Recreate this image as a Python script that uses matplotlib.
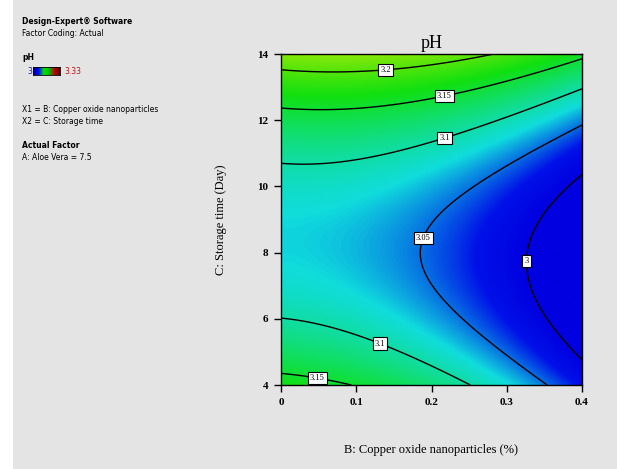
import numpy as np
import matplotlib
matplotlib.use("Agg")
import matplotlib.pyplot as plt
from matplotlib.colors import LinearSegmentedColormap, Normalize

# fitted quadratic model for pH (actual factors)
terms = ["Intercept", "B", "C", "BC", "B^2", "C^2"]
coefs = [3.40388, -0.16184, -0.078868, 0.018868, -0.66583, 0.004717]

b_range = [0.0, 0.4]          # B: copper oxide nanoparticles (%)
c_range = [4.0, 14.0]         # C: storage time (day)
ph_range = [3.0, 3.33]        # legend low / high
contour_levels = [3.0, 3.05, 3.1, 3.15, 3.2]

x_ticks = [0, 0.1, 0.2, 0.3, 0.4]
x_tick_labels = ["0", "0.1", "0.2", "0.3", "0.4"]
y_ticks = [4, 6, 8, 10, 12, 14]

# where the contour labels sit (B, C)
label_spots = [(0.138, 13.76), (0.215, 12.97), (0.215, 11.67), (0.185, 8.47),
               (0.328, 7.75), (0.134, 5.39), (0.049, 4.36)]


def ph_model(B, C):
    a0, aB, aC, aBC, aBB, aCC = coefs
    return a0 + aB * B + aC * C + aBC * B * C + aBB * B ** 2 + aCC * C ** 2


bg = "#e4e4e4"
fig = plt.figure(figsize=(6.17, 4.69), dpi=100)
fig.patch.set_facecolor("white")
fig.patches.append(plt.Rectangle((13 / 617, 0), 1, 1, transform=fig.transFigure,
                                 facecolor=bg, edgecolor="none", zorder=-10))

ax = fig.add_axes([281 / 617, 1 - 385 / 469, 301 / 617, 331 / 469])

dx_cmap = LinearSegmentedColormap.from_list(
    "dx", [(0.0, "#0000e0"), (0.08, "#0010e8"), (0.23, "#10dcdc"),
           (0.5, "#10e010"), (0.85, "#f0f000"), (1.0, "#e00000")])
norm = Normalize(vmin=ph_range[0], vmax=ph_range[1], clip=True)

bb, cc = np.meshgrid(np.linspace(*b_range, 300), np.linspace(*c_range, 300))
zz = ph_model(bb, cc)

ax.imshow(zz, origin="lower", extent=[*b_range, *c_range], aspect="auto",
          cmap=dx_cmap, norm=norm, interpolation="bilinear")
cs = ax.contour(bb, cc, zz, levels=contour_levels, colors="black", linewidths=1.0)
labels = ax.clabel(cs, fmt=lambda v: f"{v:g}", manual=label_spots, inline=False,
                   fontsize=6, colors="black")
for t in labels:
    t.set_family("Liberation Serif")
    t.set_rotation(0)
    t.set_bbox(dict(boxstyle="square,pad=0.25", facecolor="white",
                    edgecolor="black", linewidth=0.8))

ax.set_xlim(*b_range)
ax.set_ylim(*c_range)
ax.set_xticks(x_ticks)
ax.set_xticklabels(x_tick_labels)
ax.set_yticks(y_ticks)
ax.tick_params(direction="out", length=5, width=1, labelsize=8, pad=4)
for lbl in ax.get_xticklabels() + ax.get_yticklabels():
    lbl.set_family("Liberation Serif")
    lbl.set_fontweight("bold")
for s in ax.spines.values():
    s.set_linewidth(1.0)

ax.set_title("pH", fontsize=13, family="Liberation Serif", pad=4)
ax.set_xlabel("B: Copper oxide nanoparticles (%)", fontsize=9,
              family="Liberation Serif", labelpad=27)
ax.set_ylabel("C: Storage time (Day)", fontsize=9, family="Liberation Serif",
              labelpad=22)

# side panel text
def side(y, s, bold=False, color="black", x=22):
    fig.text(x / 617, 1 - y / 469, s, fontsize=5.5, family="DejaVu Sans",
             fontweight="bold" if bold else "normal", color=color, va="center")

side(22, "Design-Expert® Software", bold=True)
side(33, "Factor Coding: Actual")
side(57, "pH", bold=True)
side(71, "3", color="#1a1aa0", x=27)
side(71, "3.33", color="#c01010", x=64)
side(110, "X1 = B: Copper oxide nanoparticles")
side(121, "X2 = C: Storage time")
side(145, "Actual Factor", bold=True)
side(157, "A: Aloe Vera = 7.5")

cax = fig.add_axes([33 / 617, 1 - 75 / 469, 27 / 617, 8 / 469])
cax.imshow(np.linspace(0, 1, 100)[None, :], aspect="auto",
           cmap=LinearSegmentedColormap.from_list("leg", ["#000080", "#0000ff", "#00e000", "#00c000", "#c00000", "#600000"]))
cax.set_xticks([])
cax.set_yticks([])
for s in cax.spines.values():
    s.set_linewidth(0.6)

fig.savefig("out.png", dpi=100, facecolor=fig.get_facecolor())
